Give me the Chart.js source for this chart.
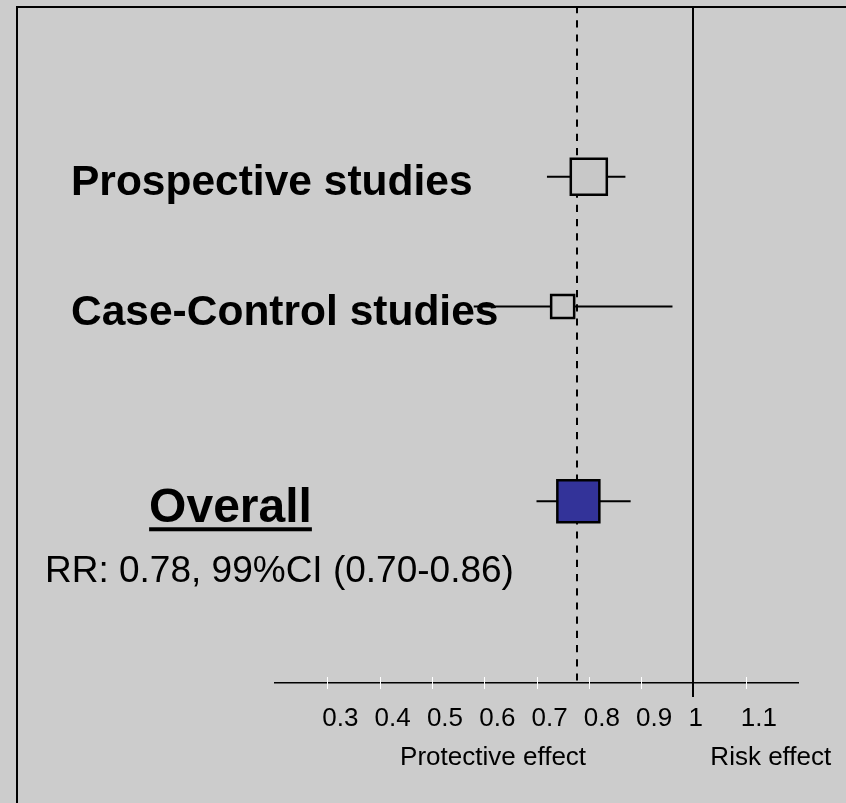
<!DOCTYPE html>
<html>
<head>
<meta charset="utf-8">
<script src="https://cdn.jsdelivr.net/npm/chart.js@4/dist/chart.umd.min.js"></script>
<style>
  html, body { margin: 0; padding: 0; background: #cccccc; }
  #c { display: block; }
</style>
</head>
<body>
<canvas id="c" width="846" height="803"></canvas>
<script>
// ---- data ----
const categories = ['Prospective studies', 'Case-Control studies', 'Overall'];
const estimates  = [0.80, 0.75, 0.78];
const lowerCI    = [0.72, 0.58, 0.70];
const upperCI    = [0.87, 0.96, 0.88];
const tickValues = [0.3, 0.4, 0.5, 0.6, 0.7, 0.8, 0.9, 1.0, 1.1];
const tickLabels = ['0.3', '0.4', '0.5', '0.6', '0.7', '0.8', '0.9', '1', '1.1'];
const summaryText = 'RR: 0.78, 99%CI (0.70-0.86)';
const axisNotes = ['Protective effect', 'Risk effect'];
const referenceValue = 1;
const pooledValue = 0.78;

// ---- layout / style ----
const rowPos = [1, 3, 6];
const boxSides = [36, 23, 42];
const boxColors = ['#c8c8c8', '#c8c8c8', '#333399'];
const noteAnchors = [0.617, 1.148];
const FONT = "'Liberation Sans', Arial, sans-serif";

const boxRadii = boxSides.map(s => s / Math.SQRT2);

const datasets = [{
  label: 'estimates',
  data: estimates.map((v, i) => ({ x: v, y: rowPos[i] })),
  pointStyle: 'rect',
  pointRadius: boxRadii,
  pointHoverRadius: boxRadii,
  backgroundColor: boxColors,
  borderColor: '#000',
  borderWidth: 2.5,
  showLine: false
}];
categories.forEach((c, i) => {
  datasets.push({
    label: c + ' CI',
    data: [{ x: lowerCI[i], y: rowPos[i] }, { x: upperCI[i], y: rowPos[i] }],
    showLine: true,
    borderColor: '#000',
    borderWidth: 1.9,
    pointRadius: 0,
    pointHoverRadius: 0
  });
});

const decor = {
  id: 'decor',
  beforeDraw(chart) {
    const ctx = chart.ctx;
    ctx.save();
    ctx.fillStyle = '#cccccc';
    ctx.fillRect(0, 0, chart.width, chart.height);
    ctx.fillStyle = '#000';
    ctx.fillRect(16, 6, 2, chart.height);
    ctx.fillRect(16, 6, chart.width, 2);
    ctx.restore();
  },
  beforeDatasetsDraw(chart) {
    const ctx = chart.ctx;
    const xs = chart.scales.x;
    const a = chart.chartArea;
    ctx.save();
    const px = Math.round(xs.getPixelForValue(pooledValue)) - 1;
    ctx.strokeStyle = '#000';
    ctx.lineWidth = 2;
    ctx.setLineDash([7.2, 7]);
    ctx.lineDashOffset = 2;
    ctx.beginPath();
    ctx.moveTo(px, 8);
    ctx.lineTo(px, a.bottom + 3);
    ctx.stroke();
    ctx.restore();
  },
  afterDatasetsDraw(chart) {
    const ctx = chart.ctx;
    const xs = chart.scales.x;
    const ys = chart.scales.y;
    const a = chart.chartArea;
    ctx.save();
    // white tick marks
    ctx.strokeStyle = '#ffffff';
    ctx.lineWidth = 1;
    tickValues.forEach(v => {
      if (Math.abs(v - referenceValue) < 1e-9) return;
      const p = Math.round(xs.getPixelForValue(v)) + 0.5;
      ctx.beginPath();
      ctx.moveTo(p, a.bottom - 6);
      ctx.lineTo(p, a.bottom + 6);
      ctx.stroke();
    });
    // reference line at 1
    const rx = Math.round(xs.getPixelForValue(referenceValue));
    ctx.fillStyle = '#000';
    ctx.fillRect(rx - 1, 8, 2, a.bottom + 14 - 8);

    // left labels
    ctx.fillStyle = '#000';
    ctx.textBaseline = 'alphabetic';
    ctx.textAlign = 'left';
    ctx.font = 'bold 42.5px ' + FONT;
    ctx.fillText(categories[0], 71, ys.getPixelForValue(rowPos[0]) + 18);
    ctx.fillText(categories[1], 71, ys.getPixelForValue(rowPos[1]) + 18);
    // overall
    ctx.font = 'bold 48px ' + FONT;
    ctx.textAlign = 'center';
    const oy = ys.getPixelForValue(rowPos[2]) + 21;
    ctx.fillText(categories[2], 230.5, oy);
    const w = ctx.measureText(categories[2]).width;
    ctx.fillRect(230.5 - w / 2, oy + 5, w, 4);
    // summary
    ctx.font = '37px ' + FONT;
    ctx.textAlign = 'left';
    ctx.fillText(summaryText, 45, oy + 60);
    // axis notes
    ctx.font = '26px ' + FONT;
    ctx.textAlign = 'center';
    axisNotes.forEach((t, i) => {
      ctx.fillText(t, xs.getPixelForValue(noteAnchors[i]), 765);
    });
    ctx.restore();
  }
};

new Chart(document.getElementById('c'), {
  type: 'scatter',
  data: { datasets },
  options: {
    responsive: false,
    animation: false,
    devicePixelRatio: 1,
    events: [],
    layout: { autoPadding: false, padding: { left: 275, right: 48, top: 8, bottom: 0 } },
    plugins: { legend: { display: false }, tooltip: { enabled: false } },
    scales: {
      x: {
        type: 'linear',
        min: 0.2,
        max: 1.2,
        afterFit(scale) { scale.height = 120; },
        afterBuildTicks(scale) {
          scale.ticks = [0.2].concat(tickValues, [1.2]).map(v => ({ value: v }));
        },
        grid: { display: false, drawTicks: false },
        border: { display: true, color: '#000', width: 1.5 },
        ticks: {
          autoSkip: false,
          maxRotation: 0,
          minRotation: 0,
          align: 'start',
          labelOffset: -5,
          padding: 20,
          color: '#000',
          font: { family: FONT, size: 26 },
          callback(v) {
            const i = tickValues.findIndex(t => Math.abs(t - v) < 1e-6);
            return i >= 0 ? tickLabels[i] : '';
          }
        }
      },
      y: {
        type: 'linear',
        display: false,
        reverse: true,
        min: -1.6,
        max: 8.8
      }
    }
  },
  plugins: [decor]
});
</script>
</body>
</html>
